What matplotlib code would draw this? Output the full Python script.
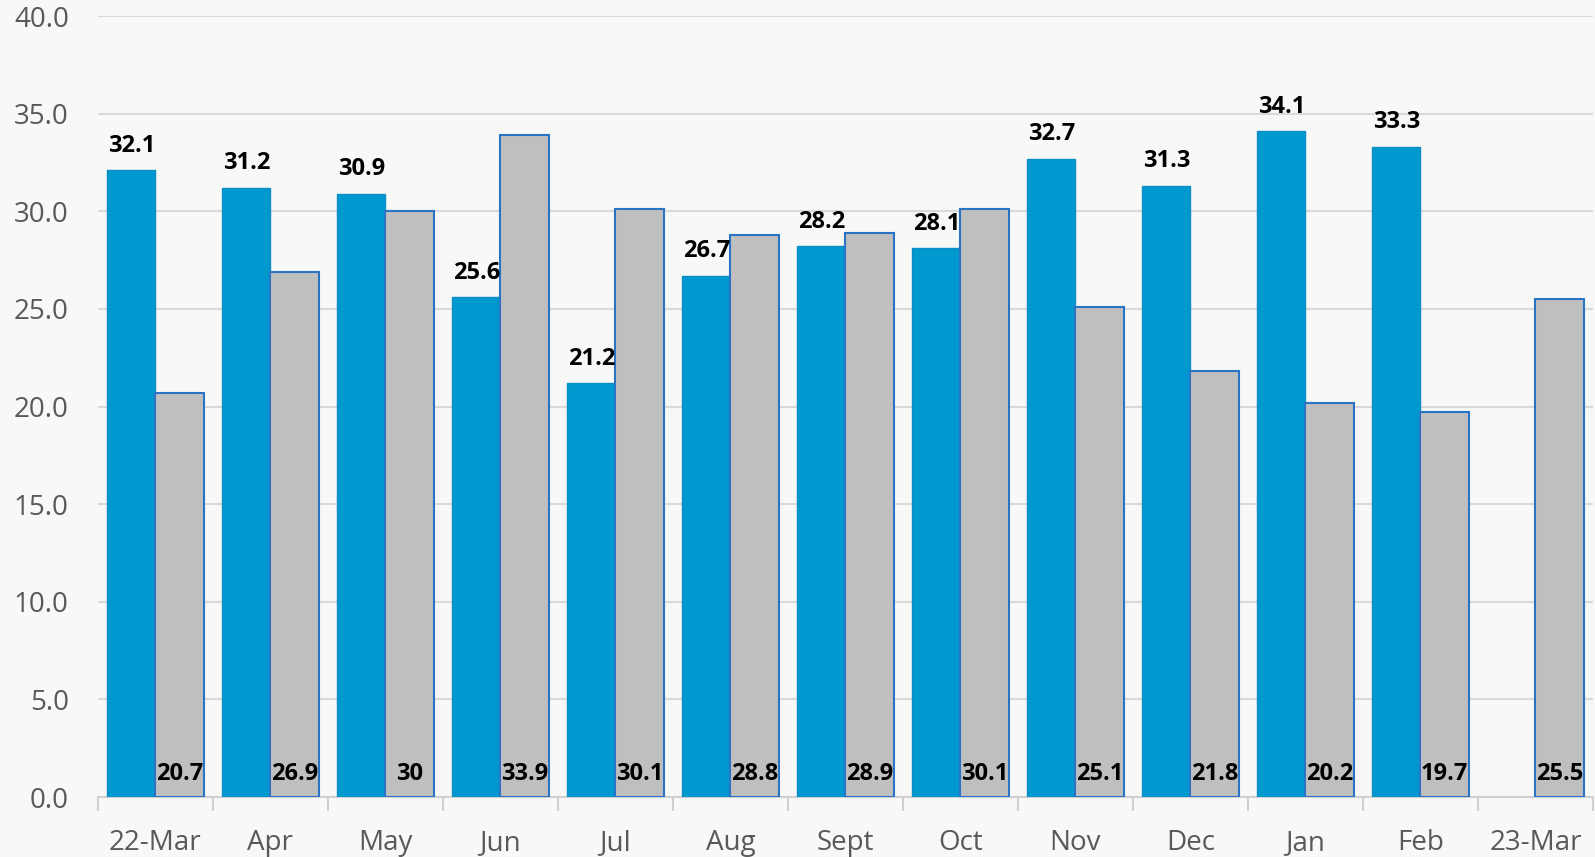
import numpy as np
import matplotlib.pyplot as plt

#%% data
months = ["22-Mar", "Apr", "May", "Jun", "Jul", "Aug", "Sept", "Oct",
          "Nov", "Dec", "Jan", "Feb", "23-Mar"]
blue_vals = [32.1, 31.2, 30.9, 25.6, 21.2, 26.7, 28.2, 28.1, 32.7, 31.3, 34.1, 33.3, np.nan]
gray_vals = [20.7, 26.9, 30, 33.9, 30.1, 28.8, 28.9, 30.1, 25.1, 21.8, 20.2, 19.7, 25.5]

#%% plot
plt.rcParams["font.family"] = ["Open Sans", "DejaVu Sans"]

fig = plt.figure(figsize=(15.95, 8.57), dpi=100, facecolor="#f8f8f7")
ax = fig.add_axes([0.0614, 0.07, 0.9373, 0.9113])
ax.set_facecolor("#f8f8f7")

x = np.arange(len(months))
w = 0.42
edge = "#2a74c6"
ax.bar(x - w/2, blue_vals, w, color="#0099cf", edgecolor="#0a8cc4", linewidth=1.0, zorder=3)
ax.bar(x + w/2, gray_vals, w, color="#bfbfbf", edgecolor=edge, linewidth=1.5, zorder=3)

# labels
for i, v in enumerate(blue_vals):
    if np.isnan(v):
        continue
    ax.annotate("{:g}".format(v), (x[i] - w/2, v), xytext=(0, 9), textcoords="offset points",
                ha="center", va="bottom", fontsize=17, fontweight="bold", color="black", zorder=4)
for i, v in enumerate(gray_vals):
    ax.annotate("{:g}".format(v), (x[i] + w/2, 0), xytext=(0, 8), textcoords="offset points",
                ha="center", va="bottom", fontsize=17, fontweight="bold", color="black", zorder=4)

ax.set_xlim(-0.5, len(months) - 0.5)
ax.set_ylim(0, 40)
ax.set_yticks(np.arange(0, 41, 5))
ax.set_yticklabels(["{:.1f}".format(t) for t in np.arange(0, 41, 5)])
ax.set_xticks(x)
ax.set_xticklabels(months)
ax.set_xticks(np.arange(-0.5, len(months), 1), minor=True)

ax.grid(axis="y", color="#d9d9d9", linewidth=1.5, zorder=0)
for s in ["top", "right", "left"]:
    ax.spines[s].set_visible(False)
ax.spines["bottom"].set_color("#d0d0d0")
ax.spines["bottom"].set_linewidth(1.5)

ax.tick_params(axis="y", length=0, pad=21, labelsize=20, labelcolor="#595959")
ax.tick_params(axis="x", which="major", length=0, pad=23, labelsize=20, labelcolor="#595959")
ax.tick_params(axis="x", which="minor", length=10, width=1.5, color="#d0d0d0")

plt.savefig("out.png", dpi=100, facecolor=fig.get_facecolor())
